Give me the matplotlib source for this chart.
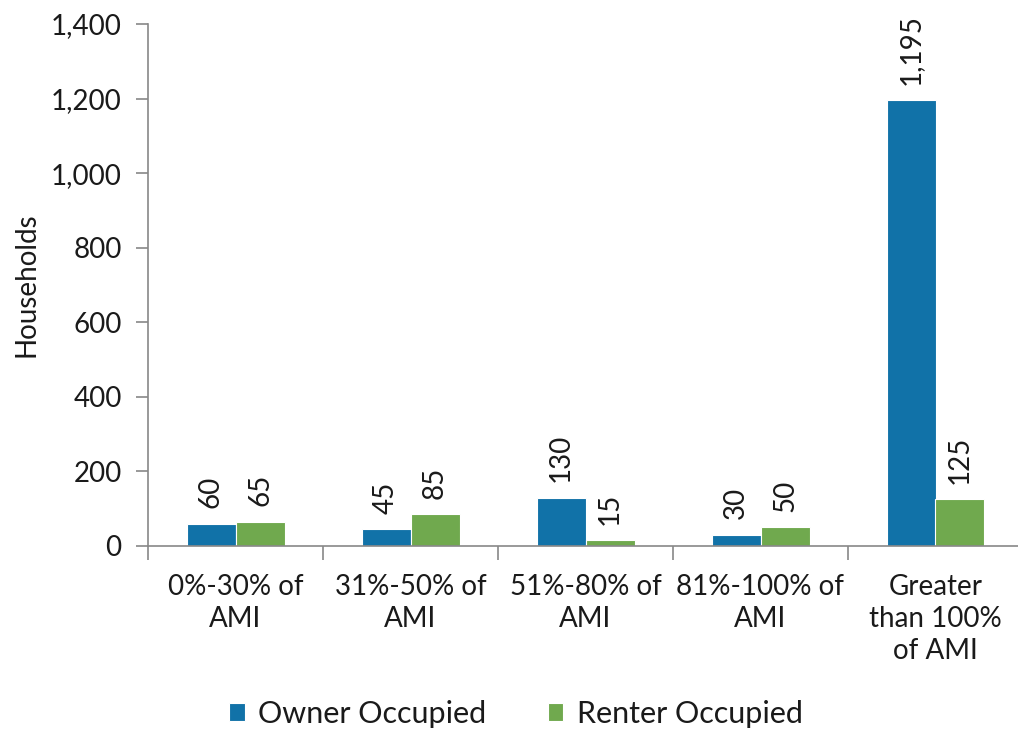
import matplotlib
matplotlib.use("Agg")
import matplotlib.pyplot as plt
import numpy as np

categories = ["0%-30% of\nAMI", "31%-50% of\nAMI", "51%-80% of\nAMI", "81%-100% of\nAMI", "Greater\nthan 100%\nof AMI"]
owner = [60, 45, 130, 30, 1195]
renter = [65, 85, 15, 50, 125]
owner_labels = ["60", "45", "130", "30", "1,195"]
renter_labels = ["65", "85", "15", "50", "125"]
yticks = [0, 200, 400, 600, 800, 1000, 1200, 1400]
ytick_labels = ["0", "200", "400", "600", "800", "1,000", "1,200", "1,400"]

plt.rcParams['font.family'] = ['Lato', 'DejaVu Sans']
W, H = 1018, 730
fig = plt.figure(figsize=(W/100, H/100), dpi=100)
left, right, top, bottom = 148, 1023, 24, 546
ax = fig.add_axes([left/W, 1-bottom/H, (right-left)/W, (bottom-top)/H])

blue = "#1172A8"
green = "#70A94E"
fs = 20
tc = "#1a1a1a"
x = np.arange(len(categories))
bw = 0.28
ax.bar(x - bw/2, owner, bw, color=blue, edgecolor="white", linewidth=0.8, label="Owner Occupied")
ax.bar(x + bw/2, renter, bw, color=green, edgecolor="white", linewidth=0.8, label="Renter Occupied")

for i in range(len(x)):
    ax.text(x[i] - bw/2, owner[i] + 42, owner_labels[i], rotation=90, ha="center", va="bottom", fontsize=fs, color=tc)
    ax.text(x[i] + bw/2, renter[i] + 42, renter_labels[i], rotation=90, ha="center", va="bottom", fontsize=fs, color=tc)

ax.set_xlim(-0.5, len(categories) - 0.5)
ax.set_ylim(0, 1400)
ax.set_yticks(yticks)
ax.set_yticklabels(ytick_labels, fontsize=fs, color=tc)
ax.set_xticks(x)
ax.set_xticklabels(categories, fontsize=fs, color=tc, linespacing=1.3)
ax.tick_params(axis="x", length=0, pad=20)
ax.set_xticks(np.arange(-0.5, len(categories)), minor=True)
ax.tick_params(axis="x", which="minor", length=10, color="#888888", width=1.2)
ax.tick_params(axis="y", length=9, color="#888888", width=1.2, pad=10)
for s in ["top", "right"]:
    ax.spines[s].set_visible(False)
for s in ["left", "bottom"]:
    ax.spines[s].set_color("#888888")
    ax.spines[s].set_linewidth(1.2)
ax.set_ylabel("Households", fontsize=fs, color=tc, labelpad=8)

leg = fig.legend(loc="center", bbox_to_anchor=(0.507, 1-714/H), ncol=2, frameon=False,
                 fontsize=fs + 2, handlelength=0.5, handleheight=0.5, handletextpad=0.45,
                 columnspacing=2.0)
for t in leg.get_texts():
    t.set_color(tc)

fig.savefig("out.png", dpi=100)
